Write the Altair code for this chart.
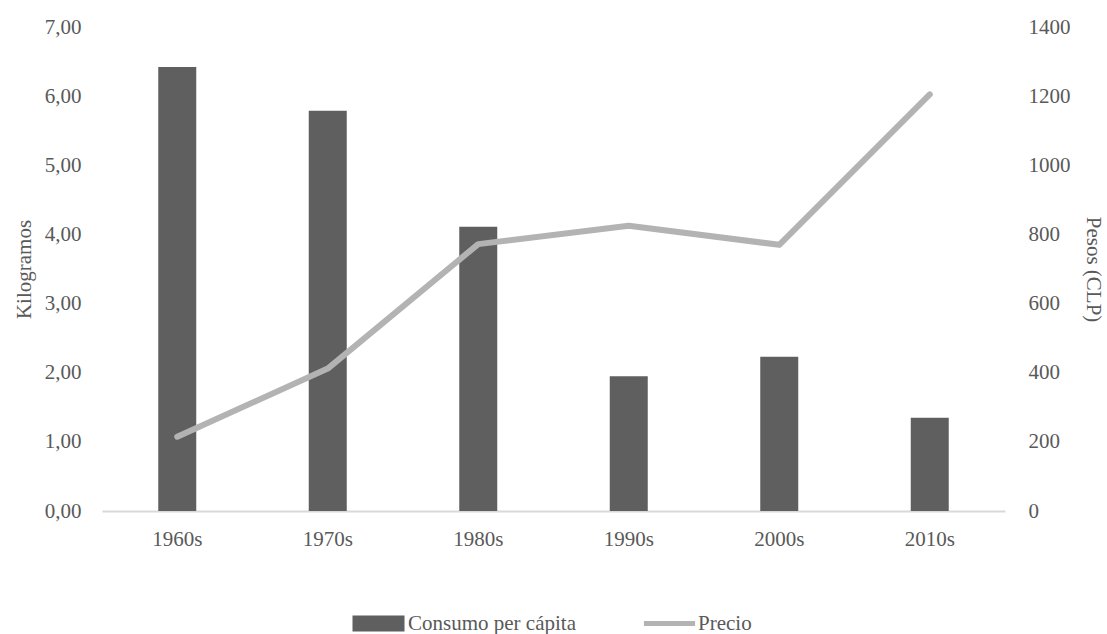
import altair as alt
import pandas as pd

decadas = ["1960s", "1970s", "1980s", "1990s", "2000s", "2010s"]
consumo = [6.42, 5.79, 4.11, 1.95, 2.23, 1.35]
precio = [215, 412, 772, 825, 770, 1205]

df = pd.DataFrame({
    "decada": decadas,
    "consumo": consumo,
    "precio": precio,
    "serie_barra": "Consumo per cápita",
    "serie_linea": "Precio",
})

FONT = "Liberation Serif"
TEXT = "#595959"
SIZE = 21

x = alt.X(
    "decada:N",
    sort=decadas,
    title=None,
    scale=alt.Scale(paddingInner=0.75, paddingOuter=0.375),
    axis=alt.Axis(labelAngle=0, ticks=False, domainColor="#d9d9d9", domainWidth=2,
                  labelPadding=17),
)

bars = alt.Chart(df).mark_bar(size=38).encode(
    x=x,
    y=alt.Y(
        "consumo:Q",
        title="Kilogramos",
        scale=alt.Scale(domain=[0, 7]),
        axis=alt.Axis(values=[0, 1, 2, 3, 4, 5, 6, 7],
                      labelExpr="replace(format(datum.value, '.2f'), '.', ',')",
                      grid=False, domain=False, ticks=False, labelPadding=21, titlePadding=10),
    ),
    fill=alt.Fill(
        "serie_barra:N",
        scale=alt.Scale(domain=["Consumo per cápita"], range=["#5f5f5f"]),
        legend=alt.Legend(title=None, orient="none", legendX=266, legendY=586,
                          symbolType="M-3.25,-1h6.5v2h-6.5z",
                          symbolSize=256, symbolStrokeWidth=0, labelOffset=19,
                          labelLimit=400),
    ),
)

line = alt.Chart(df).mark_line(strokeWidth=6, strokeCap="round", strokeJoin="round").encode(
    x=x,
    y=alt.Y(
        "precio:Q",
        title="Pesos (CLP)",
        scale=alt.Scale(domain=[0, 1400]),
        axis=alt.Axis(orient="right", values=[0, 200, 400, 600, 800, 1000, 1200, 1400],
                      format="d", grid=False, domain=False, ticks=False, labelPadding=23,
                      titlePadding=12),
    ),
    stroke=alt.Stroke(
        "serie_linea:N",
        scale=alt.Scale(domain=["Precio"], range=["#b3b3b3"]),
        legend=alt.Legend(title=None, orient="none", legendX=557, legendY=586,
                          symbolType="M-3.2,0H3.2", symbolSize=256,
                          symbolStrokeWidth=5, labelOffset=18, labelLimit=400),
    ),
)

chart = alt.layer(bars, line).resolve_scale(y="independent").properties(
    width=903,
    height=484,
    autosize=alt.AutoSizeParams(type="none"),
    padding={"left": 102, "top": 27, "right": 102, "bottom": 123},
).configure_view(stroke=None).configure_axis(
    labelFont=FONT, titleFont=FONT, labelFontSize=SIZE, titleFontSize=SIZE,
    labelColor=TEXT, titleColor=TEXT, titleFontWeight="normal",
).configure_legend(
    labelFont=FONT, labelFontSize=SIZE, labelColor=TEXT, padding=0,
)

chart.save("out.html", embed_options={"renderer": "svg", "actions": False})
